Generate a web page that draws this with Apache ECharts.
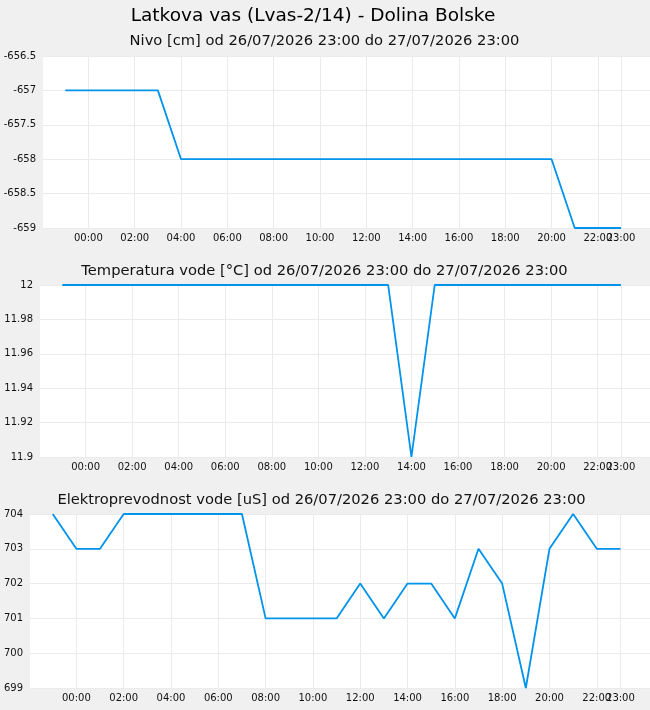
<!DOCTYPE html>
<html>
<head>
<meta charset="utf-8">
<script src="https://cdn.jsdelivr.net/npm/echarts@6/dist/echarts.min.js"></script>
<style>
  html, body { margin: 0; padding: 0; background: #f0f0f0; }
  #chart { width: 650px; height: 710px; }
</style>
</head>
<body>
<div id="chart"></div>
<script>
// hourly readings 26/07 23:00 -> 27/07 23:00
const times = [
  '2026-07-26 23:00', '2026-07-27 00:00', '2026-07-27 01:00', '2026-07-27 02:00',
  '2026-07-27 03:00', '2026-07-27 04:00', '2026-07-27 05:00', '2026-07-27 06:00',
  '2026-07-27 07:00', '2026-07-27 08:00', '2026-07-27 09:00', '2026-07-27 10:00',
  '2026-07-27 11:00', '2026-07-27 12:00', '2026-07-27 13:00', '2026-07-27 14:00',
  '2026-07-27 15:00', '2026-07-27 16:00', '2026-07-27 17:00', '2026-07-27 18:00',
  '2026-07-27 19:00', '2026-07-27 20:00', '2026-07-27 21:00', '2026-07-27 22:00',
  '2026-07-27 23:00'
]
const nivo = [-657, -657, -657, -657, -657, -658, -658, -658, -658, -658, -658, -658,
  -658, -658, -658, -658, -658, -658, -658, -658, -658, -658, -659, -659, -659]
const temperatura = [12, 12, 12, 12, 12, 12, 12, 12, 12, 12, 12, 12,
  12, 12, 12, 11.9, 12, 12, 12, 12, 12, 12, 12, 12, 12]
const prevodnost = [704, 703, 703, 704, 704, 704, 704, 704, 704, 701, 701, 701,
  701, 702, 701, 702, 702, 701, 703, 702, 699, 703, 704, 703, 703]
// x tick labels (every 2h) plus the last reading
const tickTimes = [
  '2026-07-27 00:00', '2026-07-27 02:00', '2026-07-27 04:00', '2026-07-27 06:00',
  '2026-07-27 08:00', '2026-07-27 10:00', '2026-07-27 12:00', '2026-07-27 14:00',
  '2026-07-27 16:00', '2026-07-27 18:00', '2026-07-27 20:00', '2026-07-27 22:00'
]
const lastTime = '2026-07-27 23:00'
const titleText = 'Latkova vas (Lvas-2/14) - Dolina Bolske'
const subTitles = [
  'Nivo [cm] od 26/07/2026 23:00 do 27/07/2026 23:00',
  'Temperatura vode [°C] od 26/07/2026 23:00 do 27/07/2026 23:00',
  'Elektroprevodnost vode [uS] od 26/07/2026 23:00 do 27/07/2026 23:00'
]

const HOUR = 3600 * 1000
const toTs = s => {
  const [d, t] = s.split(' ')
  const [y, m, dd] = d.split('-').map(Number)
  const [h, mi] = t.split(':').map(Number)
  return new Date(y, m - 1, dd, h, mi).getTime()
}
const pad = n => (n < 10 ? '0' : '') + n
const fmtHour = v => {
  const d = new Date(v)
  return pad(d.getHours()) + ':' + pad(d.getMinutes())
}
const ticks = tickTimes.map(toTs)
const lastTick = toTs(lastTime)
const xMin = toTs('2026-07-27 00:00') - 1.96 * HOUR
const xMax = lastTick + 1.25 * HOUR

const font = 'DejaVu Sans'
const lineColor = '#0093ec'

const grids = [
  { left: 43, right: 0, top: 56, height: 172 },
  { left: 40, right: 0, top: 285, height: 172 },
  { left: 30, right: 0, top: 514, height: 174 }
]
const yCfg = [
  { min: -659, max: -656.5, interval: 0.5 },
  { min: 11.9, max: 12, interval: 0.02 },
  { min: 699, max: 704, interval: 1 }
]
const seriesData = [nivo, temperatura, prevodnost]

const myChart = echarts.init(document.getElementById('chart'))

const labelStyle = {
  hideOverlap: false,
  margin: 5,
  fontFamily: font,
  fontSize: 10,
  color: '#111',
  formatter: fmtHour
}
// main x axes: 2h labels, grid lines including 23:00
const mainX = grids.map((g, i) => ({
  type: 'value',
  gridIndex: i,
  position: 'bottom',
  min: xMin,
  max: xMax,
  axisLine: { show: false },
  axisTick: { show: false, customValues: ticks.concat([lastTick]) },
  splitLine: { show: true, lineStyle: { color: '#ebebeb', width: 1 } },
  axisLabel: Object.assign({ customValues: ticks }, labelStyle)
}))
// overlay axes carrying only the 23:00 label (it overlaps 22:00 like the original)
const lastX = grids.map((g, i) => ({
  type: 'value',
  gridIndex: i,
  position: 'bottom',
  offset: 0,
  min: xMin,
  max: xMax,
  axisLine: { show: false },
  axisTick: { show: false, customValues: [lastTick] },
  splitLine: { show: false },
  axisLabel: Object.assign({ customValues: [lastTick] }, labelStyle)
}))

const subStyle = { fontFamily: font, fontSize: 14.7, fontWeight: 'normal', color: '#111' }
const option = {
  backgroundColor: '#f0f0f0',
  animation: false,
  title: [
    { text: titleText, left: 308, textAlign: 'center', top: 2,
      textStyle: { fontFamily: font, fontSize: 18.5, fontWeight: 'normal', color: '#000' } },
    { text: subTitles[0], left: 319.5, textAlign: 'center', top: 29, textStyle: subStyle },
    { text: subTitles[1], left: 319.5, textAlign: 'center', top: 259, textStyle: subStyle },
    { text: subTitles[2], left: 316.5, textAlign: 'center', top: 488, textStyle: subStyle }
  ],
  grid: grids.map(g => Object.assign({ backgroundColor: '#fff', show: true, borderWidth: 0 }, g)),
  xAxis: mainX.concat(lastX),
  yAxis: yCfg.map((c, i) => ({
    type: 'value',
    gridIndex: i,
    min: c.min,
    max: c.max,
    interval: c.interval,
    axisLine: { show: false },
    axisTick: { show: false },
    splitLine: { show: true, lineStyle: { color: '#ebebeb', width: 1 } },
    axisLabel: { margin: 7, fontFamily: font, fontSize: 10, color: '#111' }
  })),
  series: seriesData.map((d, i) => ({
    type: 'line',
    xAxisIndex: i,
    yAxisIndex: i,
    showSymbol: false,
    data: times.map((t, j) => [toTs(t), d[j]]),
    lineStyle: { color: lineColor, width: 1.8 },
    itemStyle: { color: lineColor }
  }))
}

myChart.setOption(option, true)
</script>
</body>
</html>
